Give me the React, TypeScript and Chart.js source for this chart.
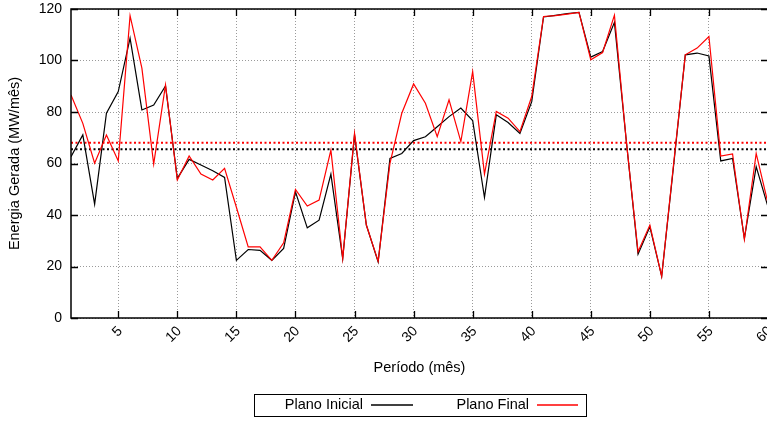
import React, { useEffect, useRef } from "react";
import { Chart, registerables } from "chart.js";

Chart.register(...registerables);

const periodos = [
  1, 2, 3, 4, 5, 6, 7, 8, 9, 10, 11, 12, 13, 14, 15, 16, 17, 18, 19, 20,
  21, 22, 23, 24, 25, 26, 27, 28, 29, 30, 31, 32, 33, 34, 35, 36, 37, 38, 39, 40,
  41, 42, 43, 44, 45, 46, 47, 48, 49, 50, 51, 52, 53, 54, 55, 56, 57, 58, 59, 60,
];

const planoInicial = [
  62.6, 71.1, 44.2, 79.5, 87.9, 108.7, 80.8, 82.7, 90.1, 54.2,
  61.6, 59.4, 57.2, 54.6, 22.4, 26.6, 26.3, 22.4, 27.0, 49.0,
  35.0, 38.0, 55.9, 23.1, 71.1, 36.1, 21.8, 62.0, 63.9, 68.9,
  70.4, 74.3, 78.2, 81.5, 76.7, 46.8, 78.9, 75.9, 71.7, 84.0,
  116.9, 117.5, 118.2, 118.7, 101.3, 103.5, 114.8, 69.1, 24.8, 35.4,
  16.2, 58.8, 102.2, 102.9, 101.8, 61.0, 62.0, 30.9, 58.8, 43.2,
];

const planoFinal = [
  86.6, 75.6, 60.1, 71.1, 61.0, 117.4, 97.0, 59.8, 90.5, 53.6,
  62.9, 55.9, 53.6, 58.1, 43.0, 27.6, 27.6, 22.4, 29.2, 49.9,
  43.5, 45.8, 65.2, 23.1, 71.7, 36.1, 22.0, 60.1, 79.5, 90.9,
  83.4, 70.4, 84.7, 68.5, 95.7, 55.9, 80.2, 77.6, 72.4, 86.0,
  117.1, 117.4, 118.0, 118.7, 100.3, 103.1, 117.6, 69.0, 25.7, 36.1,
  16.2, 59.4, 102.2, 104.8, 109.3, 62.9, 63.7, 30.5, 63.9, 44.5,
];

const mediaInicial = 65.5;
const mediaFinal = 68.1;

const xTicks = [5, 10, 15, 20, 25, 30, 35, 40, 45, 50, 55, 60];
const yTicks = [0, 20, 40, 60, 80, 100, 120];

const xTitle = "Período (mês)";
const yTitle = "Energia Gerada (MW/mês)";
const legendLabels = ["Plano Inicial", "Plano Final"];
const legendColors = ["#000000", "#ff0000"];

const FONT = "'Liberation Sans', Arial, Helvetica, sans-serif";

const framePlugin = {
  id: "framePlugin",
  afterDatasetsDraw(chart: any) {
    const { ctx, chartArea: a, scales } = chart;
    const x = scales.x;
    const y = scales.y;
    ctx.save();
    ctx.strokeStyle = "#000";
    ctx.lineWidth = 1.3;
    ctx.beginPath();
    for (const v of xTicks) {
      const px = Math.round(x.getPixelForValue(v)) + 0.5;
      ctx.moveTo(px, a.bottom);
      ctx.lineTo(px, a.bottom - 7);
      ctx.moveTo(px, a.top);
      ctx.lineTo(px, a.top + 7);
    }
    for (const v of yTicks) {
      const py = Math.round(y.getPixelForValue(v)) + 0.5;
      ctx.moveTo(a.left, py);
      ctx.lineTo(a.left + 7, py);
      ctx.moveTo(a.right, py);
      ctx.lineTo(a.right - 7, py);
    }
    ctx.stroke();
    ctx.lineWidth = 1.5;
    ctx.strokeRect(a.left, a.top, a.right - a.left, a.bottom - a.top);
    ctx.restore();
  },
  afterDraw(chart: any) {
    const { ctx, chartArea: a } = chart;
    const cx = Math.round((a.left + a.right) / 2);
    const top = 394;
    const h = 22;
    const my = top + h / 2;
    ctx.save();
    ctx.strokeStyle = "#000";
    ctx.lineWidth = 1;
    ctx.strokeRect(cx - 166 + 0.5, top + 0.5, 332, h);
    ctx.font = `14.5px ${FONT}`;
    ctx.fillStyle = "#000";
    ctx.textAlign = "right";
    ctx.textBaseline = "middle";
    ctx.fillText(legendLabels[0], cx - 57, my);
    ctx.fillText(legendLabels[1], cx + 109, my);
    const segs = [
      [cx - 49, cx - 7],
      [cx + 117, cx + 158],
    ];
    for (let i = 0; i < segs.length; i++) {
      ctx.strokeStyle = legendColors[i];
      ctx.lineWidth = 1.5;
      ctx.beginPath();
      ctx.moveTo(segs[i][0], my);
      ctx.lineTo(segs[i][1], my);
      ctx.stroke();
    }
    ctx.restore();
  },
};

export default function App() {
  const ref = useRef<HTMLCanvasElement | null>(null);

  useEffect(() => {
    const canvas = ref.current;
    if (!canvas) return;
    const chart = new Chart(canvas, {
      type: "line",
      data: {
        labels: periodos,
        datasets: [
          {
            label: legendLabels[1],
            data: planoFinal,
            borderColor: legendColors[1],
            borderWidth: 1.2,
            pointRadius: 0,
            tension: 0,
            order: 0,
          },
          {
            label: legendLabels[0],
            data: planoInicial,
            borderColor: legendColors[0],
            borderWidth: 1.2,
            pointRadius: 0,
            tension: 0,
            order: 1,
          },
          {
            label: "media final",
            data: [
              { x: periodos[0], y: mediaFinal },
              { x: periodos[periodos.length - 1], y: mediaFinal },
            ],
            borderColor: legendColors[1],
            borderWidth: 2,
            borderDash: [2, 2.5],
            pointRadius: 0,
            order: 2,
          },
          {
            label: "media inicial",
            data: [
              { x: periodos[0], y: mediaInicial },
              { x: periodos[periodos.length - 1], y: mediaInicial },
            ],
            borderColor: legendColors[0],
            borderWidth: 2,
            borderDash: [2, 2.5],
            pointRadius: 0,
            order: 3,
          },
        ],
      },
      options: {
        responsive: false,
        animation: false,
        devicePixelRatio: 1,
        layout: { padding: { left: 0, right: 12, top: 9, bottom: 0 } },
        plugins: {
          legend: { display: false },
          tooltip: { enabled: false },
        },
        scales: {
          x: {
            type: "linear",
            min: 1,
            max: 60,
            afterBuildTicks: (scale: any) => {
              scale.ticks = xTicks.map((v) => ({ value: v }));
            },
            afterFit: (scale: any) => {
              scale.height = 105;
              scale.paddingLeft = 0;
              scale.paddingRight = 0;
            },
            grid: {
              color: "#9a9a9a",
              lineWidth: 1,
              drawTicks: false,
            },
            border: { display: false, dash: [1, 2] },
            ticks: {
              autoSkip: false,
              maxRotation: 45,
              minRotation: 45,
              padding: 5,
              labelOffset: 2,
              color: "#000",
              font: { family: FONT, size: 14 },
              callback: (v: any) => String(v),
            },
            title: {
              display: true,
              text: xTitle,
              color: "#000",
              font: { family: FONT, size: 14.5 },
              padding: { top: 0, bottom: 46 },
            },
          },
          y: {
            min: 0,
            max: 120,
            ticks: {
              stepSize: 20,
              padding: 9,
              color: "#000",
              font: { family: FONT, size: 14 },
            },
            afterFit: (scale: any) => {
              scale.width = 71;
              scale.paddingTop = 0;
              scale.paddingBottom = 0;
            },
            grid: {
              color: "#9a9a9a",
              lineWidth: 1,
              drawTicks: false,
            },
            border: { display: false, dash: [1, 2] },
            title: {
              display: true,
              text: yTitle,
              color: "#000",
              font: { family: FONT, size: 14.5 },
              padding: { top: 6, bottom: 0 },
            },
          },
        },
      },
      plugins: [framePlugin],
    });
    return () => chart.destroy();
  }, []);

  return (
    <div
      style={{
        position: "fixed",
        left: 0,
        top: 0,
        width: 767,
        height: 423,
        overflow: "hidden",
        background: "#fff",
      }}
    >
      <canvas
        ref={ref}
        width={780}
        height={423}
        style={{ display: "block", width: 780, height: 423 }}
      />
    </div>
  );
}
